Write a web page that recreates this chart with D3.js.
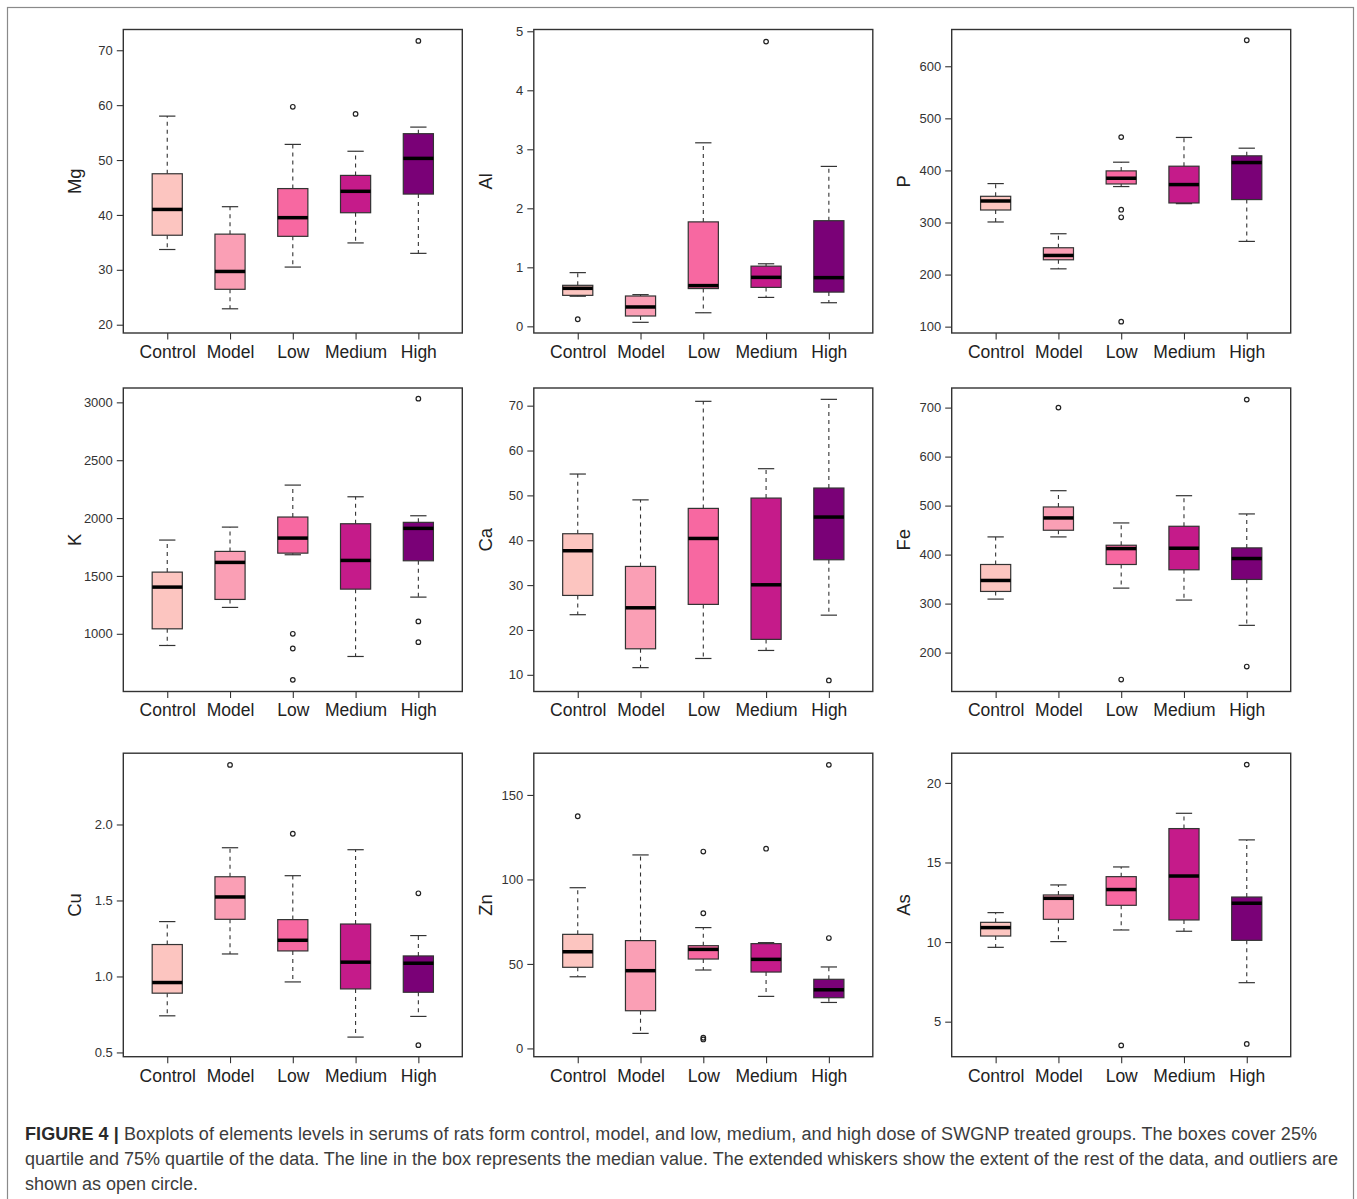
<!DOCTYPE html>
<html>
<head>
<meta charset="utf-8">
<script src="https://cdn.jsdelivr.net/npm/d3@7"></script>
<style>
  html, body { margin: 0; padding: 0; background: #fff; }
  svg { display: block; }
</style>
</head>
<body>
<svg id="fig" width="1357" height="1199"></svg>
<script>
// Treatment groups and their fills (RdPu ramp, light to dark)
const groups = ["Control", "Model", "Low", "Medium", "High"];
const groupFills = ["#fcc5c0", "#fa9fb5", "#f768a1", "#c51b8a", "#7a0177"];

// Box statistics per group: [lower whisker, Q1, median, Q3, upper whisker]
const mgStats = [[33.7, 36.3, 41.0, 47.5, 58.0], [22.9, 26.45, 29.7, 36.5, 41.5], [30.5, 36.1, 39.5, 44.8, 52.85], [34.9, 40.4, 44.3, 47.2, 51.6], [33.0, 43.8, 50.3, 54.8, 56.0]];
const mgOutliers = [[], [], [59.7], [58.4], [71.7]];
const mgTicks = [20, 30, 40, 50, 60, 70];

const alStats = [[0.51, 0.525, 0.644, 0.695, 0.91], [0.068, 0.175, 0.328, 0.514, 0.537], [0.23, 0.64, 0.69, 1.77, 3.11], [0.49, 0.66, 0.83, 1.02, 1.06], [0.40, 0.58, 0.825, 1.79, 2.71]];
const alOutliers = [[0.12], [], [], [4.825], []];
const alTicks = [0, 1, 2, 3, 4, 5];

const pStats = [[301, 324, 341.3, 350.3, 374.7], [211, 228.4, 236.7, 251.5, 278.4], [369, 374, 385, 399.1, 415.8], [336.2, 337.5, 372.8, 408.1, 463.3], [263.7, 344, 415.1, 428, 442.7]];
const pOutliers = [[], [], [464, 324.6, 310, 109.6], [], [650]];
const pTicks = [100, 200, 300, 400, 500, 600];

const kStats = [[899, 1043, 1403.5, 1533, 1810], [1228, 1297, 1617, 1712, 1922], [1683, 1697, 1827, 2009, 2285], [804, 1386, 1634, 1951, 2184], [1317, 1631, 1911, 1963, 2020]];
const kOutliers = [[], [], [1000, 873, 602], [], [3032, 1107, 928]];
const kTicks = [1000, 1500, 2000, 2500, 3000];

const caStats = [[23.4, 27.7, 37.66, 41.45, 54.76], [11.6, 15.8, 24.94, 34.16, 49.0], [13.64, 25.7, 40.4, 47.1, 70.97], [15.43, 17.9, 30.07, 49.4, 55.95], [23.3, 35.65, 45.17, 51.64, 71.41]];
const caOutliers = [[], [], [], [], [8.74]];
const caTicks = [10, 20, 30, 40, 50, 60, 70];

const feStats = [[309.2, 324.8, 347.2, 379.8, 436.1], [436.1, 449.7, 474.8, 497.2, 530.4], [331.6, 379.8, 412.3, 419.1, 464.6], [307.2, 369, 413, 457.8, 520.2], [255.6, 349.3, 392, 413.7, 483]];
const feOutliers = [[], [700], [145], [], [716.3, 171.5]];
const feTicks = [200, 300, 400, 500, 600, 700];

const cuStats = [[0.741, 0.89, 0.96, 1.21, 1.361], [1.148, 1.376, 1.523, 1.656, 1.847], [0.964, 1.168, 1.238, 1.374, 1.663], [0.601, 0.918, 1.094, 1.345, 1.834], [0.737, 0.896, 1.087, 1.135, 1.269]];
const cuOutliers = [[], [2.392], [1.939], [], [1.547, 0.548]];
const cuTicks = [0.5, 1.0, 1.5, 2.0];

const znStats = [[42.4, 48, 57.2, 67.5, 95.1], [8.9, 22.3, 46, 63.8, 114.5], [46.4, 52.9, 58.6, 60.8, 71.5], [30.8, 45.2, 52.7, 62.0, 62.6], [27.2, 30, 34.7, 40.9, 48.2]];
const znOutliers = [[137.4], [], [116.5, 80, 6.3, 5.3], [118.2], [167.8, 65.3]];
const znTicks = [0, 50, 100, 150];

const asStats = [[9.67, 10.38, 10.91, 11.24, 11.85], [10.03, 11.43, 12.75, 12.96, 13.59], [10.76, 12.31, 13.3, 14.11, 14.72], [10.68, 11.39, 14.15, 17.13, 18.09], [7.45, 10.11, 12.44, 12.83, 16.42]];
const asOutliers = [[], [], [3.51], [], [21.15, 3.6]];
const asTicks = [5, 10, 15, 20];

// Caption lines
const captionBold = "FIGURE 4 |";
const captionLines = [
  " Boxplots of elements levels in serums of rats form control, model, and low, medium, and high dose of SWGNP treated groups. The boxes cover 25%",
  "quartile and 75% quartile of the data. The line in the box represents the median value. The extended whiskers show the extent of the rest of the data, and outliers are",
  "shown as open circle."
];

// Panel set-up: element label, stats, outliers, ticks, y range (padded data extent), tick format
const panels = [
  { name: "Mg", stats: mgStats, out: mgOutliers, ticks: mgTicks, lim: [18.49, 73.78], fmt: d3.format("d") },
  { name: "Al", stats: alStats, out: alOutliers, ticks: alTicks, lim: [-0.113, 5.03], fmt: d3.format("d") },
  { name: "P",  stats: pStats,  out: pOutliers,  ticks: pTicks,  lim: [87.8, 670.6], fmt: d3.format("d") },
  { name: "K",  stats: kStats,  out: kOutliers,  ticks: kTicks,  lim: [501.4, 3124], fmt: d3.format("d") },
  { name: "Ca", stats: caStats, out: caOutliers, ticks: caTicks, lim: [6.28, 73.94], fmt: d3.format("d") },
  { name: "Fe", stats: feStats, out: feOutliers, ticks: feTicks, lim: [120.6, 740], fmt: d3.format("d") },
  { name: "Cu", stats: cuStats, out: cuOutliers, ticks: cuTicks, lim: [0.472, 2.469], fmt: d3.format(".1f") },
  { name: "Zn", stats: znStats, out: znOutliers, ticks: znTicks, lim: [-4.9, 174.7], fmt: d3.format("d") },
  { name: "As", stats: asStats, out: asOutliers, ticks: asTicks, lim: [2.8, 21.865], fmt: d3.format("d") }
];

const svg = d3.select("#fig");
const FONT = "'Liberation Sans', Arial, Helvetica, sans-serif";
const INK = "#333";

svg.append("rect").attr("width", 1357).attr("height", 1199).attr("fill", "#fff");
// outer figure frame
svg.append("rect")
  .attr("x", 7.5).attr("y", 7.5).attr("width", 1346).attr("height", 1215)
  .attr("fill", "none").attr("stroke", "#8a8a8a").attr("stroke-width", 1.2);

const colLeft = [123.3, 533.8, 951.7];
const rowTop = [29.5, 388, 753.2];
const plotW = 339, plotH = 303.5;

panels.forEach((p, i) => {
  const left = colLeft[i % 3], top = rowTop[Math.floor(i / 3)];
  const g = svg.append("g").attr("transform", `translate(${left},${top})`);

  const x = d3.scaleLinear().domain([0.3, 5.7]).range([0, plotW]);
  const y = d3.scaleLinear().domain(p.lim).range([plotH, 0]);
  const boxW = x(1.48) - x(1);
  const capW = x(1.26) - x(1);

  // left axis
  const yAxis = g.append("g").call(
    d3.axisLeft(y).tickValues(p.ticks).tickFormat(p.fmt).tickSize(6.5).tickPadding(4)
  );
  yAxis.select(".domain").remove();
  yAxis.selectAll("line").attr("stroke", INK).attr("stroke-width", 1.1);
  yAxis.selectAll("text").attr("font-family", FONT).attr("font-size", 13).attr("fill", INK);

  // bottom axis (ticks + group names)
  const xAxis = g.append("g").attr("transform", `translate(0,${plotH})`).call(
    d3.axisBottom(x).tickValues([1, 2, 3, 4, 5]).tickFormat(d => groups[d - 1]).tickSize(6.5).tickPadding(6)
  );
  xAxis.select(".domain").remove();
  xAxis.selectAll("line").attr("stroke", INK).attr("stroke-width", 1.1);
  xAxis.selectAll("text").attr("font-family", FONT).attr("font-size", 17.5).attr("fill", "#222");

  // element label
  g.append("text")
    .attr("transform", `translate(-42,${plotH / 2}) rotate(-90)`)
    .attr("text-anchor", "middle")
    .attr("font-family", FONT).attr("font-size", 18.5).attr("fill", "#222")
    .text(p.name);

  // boxes
  const boxes = g.selectAll("g.box").data(p.stats).join("g").attr("class", "box")
    .attr("transform", (d, k) => `translate(${x(k + 1)},0)`);

  // dashed whiskers
  boxes.append("line")
    .attr("x1", 0).attr("x2", 0)
    .attr("y1", d => y(d[3])).attr("y2", d => y(d[4]))
    .attr("stroke", INK).attr("stroke-width", 1.1).attr("stroke-dasharray", "4,4");
  boxes.append("line")
    .attr("x1", 0).attr("x2", 0)
    .attr("y1", d => y(d[1])).attr("y2", d => y(d[0]))
    .attr("stroke", INK).attr("stroke-width", 1.1).attr("stroke-dasharray", "4,4");
  // staples
  boxes.selectAll("line.cap").data(d => [d[0], d[4]]).join("line").attr("class", "cap")
    .attr("x1", -capW / 2).attr("x2", capW / 2)
    .attr("y1", v => y(v)).attr("y2", v => y(v))
    .attr("stroke", INK).attr("stroke-width", 1.2);
  // IQR box
  boxes.append("rect")
    .attr("x", -boxW / 2).attr("width", boxW)
    .attr("y", d => y(d[3])).attr("height", d => y(d[1]) - y(d[3]))
    .attr("fill", (d, k) => groupFills[k])
    .attr("stroke", INK).attr("stroke-width", 1.2);
  // median
  boxes.append("line")
    .attr("x1", -boxW / 2).attr("x2", boxW / 2)
    .attr("y1", d => y(d[2])).attr("y2", d => y(d[2]))
    .attr("stroke", "#000").attr("stroke-width", 3.5);

  // outliers
  p.out.forEach((vals, k) => {
    g.selectAll(null).data(vals).join("circle")
      .attr("cx", x(k + 1)).attr("cy", v => y(v)).attr("r", 2.3)
      .attr("fill", "none").attr("stroke", "#222").attr("stroke-width", 1.2);
  });

  // panel frame
  g.append("rect").attr("width", plotW).attr("height", plotH)
    .attr("fill", "none").attr("stroke", INK).attr("stroke-width", 1.4);
});

// caption, each line fitted to its set width
const cap = svg.append("g").attr("font-family", FONT).attr("font-size", 18).attr("fill", "#3c3c3c");
const l1 = cap.append("text").attr("x", 25).attr("y", 1140)
  .attr("textLength", 1292).attr("lengthAdjust", "spacing");
l1.append("tspan").attr("font-weight", "bold").attr("fill", "#2a2a2a").text(captionBold);
l1.append("tspan").text(captionLines[0]);
cap.append("text").attr("x", 25).attr("y", 1165)
  .attr("textLength", 1313).attr("lengthAdjust", "spacing").text(captionLines[1]);
cap.append("text").attr("x", 25).attr("y", 1190)
  .attr("textLength", 173).attr("lengthAdjust", "spacing").text(captionLines[2]);
</script>
</body>
</html>
